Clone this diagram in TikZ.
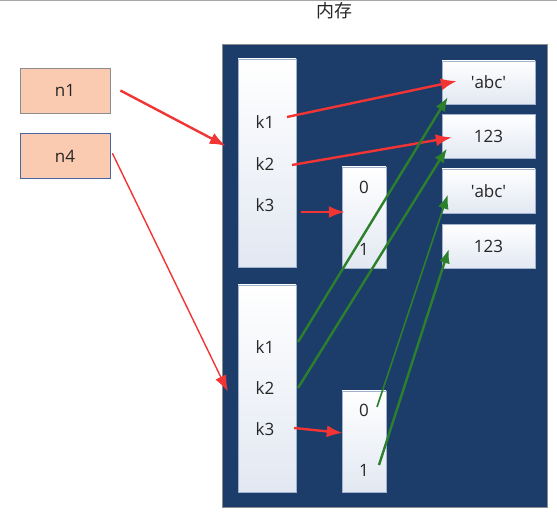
\documentclass[tikz,border=0pt]{standalone}
\usepackage{fontspec}
\setmainfont{Open Sans}
\newfontfamily\cjk{Noto Sans CJK SC}
\usepackage{tikz}
\usetikzlibrary{arrows.meta}
\usetikzlibrary{calc,positioning}

\definecolor{memblue}{RGB}{28,61,106}
\definecolor{varfill}{RGB}{250,203,176}
\definecolor{n4line}{RGB}{72,102,160}
\definecolor{boxline}{RGB}{160,178,205}
\definecolor{boxshade}{RGB}{226,232,242}
\definecolor{refred}{RGB}{242,52,52}
\definecolor{refgreen}{RGB}{44,128,44}

\begin{document}
\begin{tikzpicture}[x=1pt, y=1pt,
    every node/.style={font=\fontsize{17}{20}\selectfont, text=black!85},
    membox/.style={rectangle, draw=black!45, fill=memblue, line width=1pt, inner sep=0pt},
    cell/.style={rectangle, draw=boxline, top color=white, bottom color=boxshade, inner sep=0pt},
    varbox/.style={rectangle, fill=varfill, line width=0.8pt, inner sep=0pt,
    minimum width=90pt, minimum height=45pt},
    valbox/.style={cell, minimum width=93pt, minimum height=44pt},
    label/.style={inner sep=1pt},
    redref/.style={draw=refred, line width=2.4pt, -{Latex[length=16pt,width=12pt]}},
    greenref/.style={draw=refgreen, line width=2.4pt, -{Latex[length=14pt,width=11pt]}}]
    \useasboundingbox (0,0) rectangle (557,521);
    \draw [black!35, line width=1pt] (0,520) -- (557,520);

    \node (title) at (334,510) {\cjk\fontsize{18}{21}\selectfont 内存};

    % memory area
    \node (mem) [membox, minimum width=325pt, minimum height=463pt] at (384.5,244.5) {};

    % variables
    \node (n1) [varbox, draw=black!45] at (65,430.5) {n1};
    \node (n4) [varbox, draw=n4line, below=20pt of n1] {n4};

    % dicts and tuples
    \node (udict) [cell, minimum width=58pt, minimum height=208pt] at (267,358) {};
    \node (ldict) [cell, minimum width=58pt, minimum height=207pt] at (267,132.5) {};
    \node (utup) [cell, minimum width=44pt, minimum height=101pt] at (364,303.5) {};
    \node (ltup) [cell, minimum width=44pt, minimum height=101pt] at (364,79.5) {};

    \node (uk1) [label] at (265,399) {k1};
    \node (uk2) [label] at (265,357) {k2};
    \node (uk3) [label] at (265,316) {k3};
    \node (lk1) [label] at (265,174) {k1};
    \node (lk2) [label] at (265,133) {k2};
    \node (lk3) [label] at (265,92) {k3};
    \node (ut0) [label] at (364,334) {0};
    \node (ut1) [label] at (364,272) {1};
    \node (lt0) [label] at (364,111) {0};
    \node (lt1) [label] at (364,51) {1};

    % values
    \node (v1) [valbox, minimum height=43pt] at (488.5,438.5) {\textquotesingle abc\textquotesingle};
    \node (v2) [valbox, below=10pt of v1] {123};
    \node (v3) [valbox, below=10pt of v2] {\textquotesingle abc\textquotesingle};
    \node (v4) [valbox, below=11pt of v3] {123};

    % references
    \draw [redref] ($(n1.east)+(10,0)$) -- ($(udict.west)+(-12,17)$);
    \draw [redref, line width=1.4pt] ($(n4.east)+(2,3)$) -- ($(ldict.west)+(-10,-3)$);
    \draw [redref] ($(uk1)+(22,5)$) -- ($(v1.west)+(15,1.5)$);
    \draw [redref] ($(uk2)+(27,-1)$) -- ($(v2.west)+(10,-1)$);
    \draw [redref] ($(uk3)+(36,-7)$) -- ($(utup.west)+(3,5.5)$);
    \draw [redref] ($(lk3)+(29,1)$) -- ($(ltup.west)+(1,8.5)$);

    \draw [greenref] ($(lk1)+(33,5)$) -- ($(v1.south west)+(6,7)$);
    \draw [greenref] ($(lk2)+(33,0)$) -- ($(v2.south west)+(5,10)$);
    \draw [greenref, line width=1.6pt] ($(lt0)+(13,3)$) -- ($(v3.west)+(6,-4)$);
    \draw [greenref] ($(lt1)+(15,5)$) -- ($(v4.west)+(7,-3)$);
\end{tikzpicture}
\end{document}
